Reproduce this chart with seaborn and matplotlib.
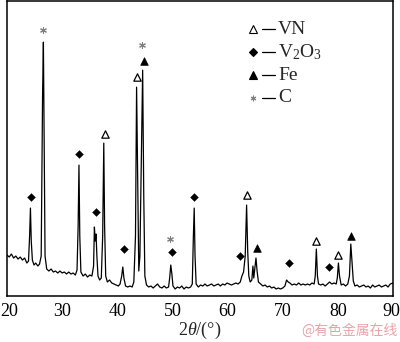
import matplotlib
matplotlib.use("Agg")
import matplotlib.pyplot as plt
import matplotlib.transforms as mtransforms
import seaborn as sns
import pandas as pd

# ---- XRD profile (2theta, intensity in arbitrary units) ----
two_theta = [
    20.0, 20.4, 20.8, 21.2, 21.6, 22.0, 22.4, 22.8, 23.2, 23.6, 23.9, 24.1, 24.25, 24.4, 24.6, 24.9,
    25.2, 25.6, 25.9, 26.2, 26.45, 26.6, 26.75, 26.9, 27.2, 27.6, 28.0, 28.4, 28.8, 29.2, 29.6, 30.0,
    30.4, 30.8, 31.2, 31.6, 32.0, 32.4, 32.7, 32.9, 33.05, 33.2, 33.4, 33.8, 34.2, 34.6, 35.0, 35.4,
    35.7, 35.85, 36.0, 36.15, 36.3, 36.5, 36.8, 37.1, 37.35, 37.55, 37.7, 37.9, 38.2, 38.6, 39.0, 39.4,
    39.8, 40.2, 40.5, 40.8, 41.0, 41.2, 41.5, 41.9, 42.3, 42.7, 43.0, 43.3, 43.5, 43.7, 43.9, 44.1,
    44.4, 44.6, 44.8, 45.0, 45.3, 45.7, 46.1, 46.5, 46.9, 47.3, 47.7, 48.1, 48.5, 48.9, 49.3, 49.5,
    49.7, 49.9, 50.1, 50.5, 50.9, 51.3, 51.7, 52.1, 52.5, 52.9, 53.3, 53.6, 53.8, 53.95, 54.1, 54.3,
    54.7, 55.1, 55.5, 55.9, 56.3, 56.7, 57.1, 57.5, 57.9, 58.3, 58.7, 59.1, 59.5, 59.9, 60.3, 60.7,
    61.1, 61.5, 61.9, 62.3, 62.6, 62.9, 63.2, 63.45, 63.65, 63.85, 64.1, 64.4, 64.6, 64.75, 65.0, 65.15,
    65.35, 65.6, 66.0, 66.4, 66.8, 67.2, 67.6, 68.0, 68.4, 68.8, 69.2, 69.6, 70.0, 70.4, 70.7, 71.0,
    71.3, 71.7, 72.1, 72.5, 72.9, 73.3, 73.7, 74.1, 74.5, 74.9, 75.3, 75.7, 75.9, 76.1, 76.3, 76.5,
    76.9, 77.3, 77.7, 78.1, 78.5, 78.9, 79.3, 79.7, 79.9, 80.1, 80.3, 80.6, 81.0, 81.4, 81.8, 82.1,
    82.35, 82.55, 82.8, 83.1, 83.5, 83.9, 84.3, 84.7, 85.1, 85.5, 85.9, 86.3, 86.7, 87.1, 87.5, 87.9,
    88.3, 88.7, 89.1, 89.5, 90.0,
]
intensity = [
    41, 39, 42, 38, 40, 37, 39, 36, 38, 33, 35, 60, 88, 55, 36, 31,
    33, 30, 32, 40, 200, 254, 150, 40, 27, 25, 27, 24, 25, 23, 25, 23,
    24, 22, 24, 22, 23, 21, 26, 70, 131, 60, 24, 20, 22, 19, 21, 20,
    30, 69, 55, 62, 40, 20, 16, 18, 60, 153, 70, 20, 14, 16, 13, 12,
    11, 10, 12, 20, 29, 18, 10, 9, 10, 9, 14, 60, 209, 120, 25, 40,
    150, 226, 100, 20, 11, 9, 10, 8, 10, 12, 9, 8, 10, 8, 9, 18,
    31, 22, 10, 7, 9, 8, 10, 7, 9, 8, 9, 12, 60, 88, 40, 12,
    9, 11, 10, 12, 10, 11, 12, 10, 11, 12, 10, 12, 11, 13, 12, 11,
    12, 13, 12, 14, 20, 24, 40, 91, 45, 20, 14, 16, 30, 18, 30, 38,
    25, 14, 12, 10, 11, 9, 10, 8, 9, 7, 8, 7, 8, 10, 16, 14,
    13, 11, 12, 11, 13, 11, 12, 11, 12, 11, 13, 12, 20, 47, 20, 12,
    11, 12, 10, 12, 14, 12, 13, 12, 18, 33, 20, 11, 12, 10, 12, 20,
    52, 35, 15, 10, 11, 9, 10, 11, 9, 10, 8, 11, 9, 10, 11, 9,
    10, 11, 9, 12, 13,
]

# ---- phase markers (2theta, height) ----
vn_x = [37.75, 43.5, 63.5, 76.1, 80.1]
vn_y = [162, 219, 101, 55, 41]
v2o3_x = [24.3, 33.0, 36.2, 41.2, 49.9, 53.9, 62.3, 71.1, 78.4]
v2o3_y = [99, 142, 84, 47, 44, 99, 40, 33, 29]
fe_x = [44.76, 65.35, 82.3]
fe_y = [235, 48, 60]
c_x = [26.58, 44.5, 49.5]
c_y = [266, 251, 57]

legend_labels = ["VN", "V$_2$O$_3$", "Fe", "C"]
x_ticks = [20, 30, 40, 50, 60, 70, 80, 90]

sns.set_style("white")
plt.rcParams["font.family"] = ["Liberation Serif", "DejaVu Serif"]
plt.rcParams["mathtext.fontset"] = "custom"
plt.rcParams["mathtext.rm"] = "Liberation Serif"
plt.rcParams["mathtext.it"] = "Liberation Serif:italic"

fig = plt.figure(figsize=(4.0, 3.42), dpi=100)
ax = fig.add_axes([0.0175, 0.1345, 0.965, 0.862])

df = pd.DataFrame({"two_theta": two_theta, "intensity": intensity})
sns.lineplot(data=df, x="two_theta", y="intensity", ax=ax, color="black",
             linewidth=0.9, estimator=None, sort=False)

sns.scatterplot(x=vn_x, y=vn_y, ax=ax, marker="^", s=28, facecolor="white",
                edgecolor="black", linewidth=0.9, zorder=5)
sns.scatterplot(x=v2o3_x, y=v2o3_y, ax=ax, marker="D", s=16, color="black",
                edgecolor="black", linewidth=0.3, zorder=5)
sns.scatterplot(x=fe_x, y=fe_y, ax=ax, marker="^", s=30, color="black",
                edgecolor="black", linewidth=0.5, zorder=5)
sns.scatterplot(x=c_x, y=c_y, ax=ax, marker=(6, 2, 0), s=18, color="#808080",
                edgecolor="#808080", linewidth=0.8, zorder=5)

ax.set_xlim(20, 90)
ax.set_ylim(0, 295)
ax.set_xticks(x_ticks)
ax.set_xticklabels([str(t) for t in x_ticks], fontsize=13)
ax.set_yticks([])
ax.tick_params(axis="x", direction="in", length=4, width=0.8, pad=5, colors="black")
ax.set_xlabel(r"$\mathit{2\theta}$/(°)", fontsize=13, labelpad=0)
ax.set_ylabel("")
for side in ["left", "right", "top", "bottom"]:
    ax.spines[side].set_visible(True)
    ax.spines[side].set_color("black")
    ax.spines[side].set_linewidth(1.1)

# nudge the end tick labels so they stay inside the canvas
labels = ax.get_xticklabels()
labels[0].set_transform(labels[0].get_transform() +
                        mtransforms.ScaledTranslation(1.8 / 100, 0, fig.dpi_scale_trans))
labels[-1].set_transform(labels[-1].get_transform() +
                         mtransforms.ScaledTranslation(-1.8 / 100, 0, fig.dpi_scale_trans))

# ---- legend drawn as marker + dash + text ----
leg_markers = [("^", "white", "black", 28), ("D", "black", "black", 14),
               ("^", "black", "black", 28), ((6, 2, 0), "#808080", "#808080", 16)]
leg_rows_px = [29, 52, 75, 98]
for (mk, fc, ec, sz), lab, ypx in zip(leg_markers, legend_labels, leg_rows_px):
    yf = 1 - ypx / 342
    fig.lines.append(plt.Line2D([253 / 400], [yf], marker=mk, markersize=sz ** 0.5,
                                markerfacecolor=fc, markeredgecolor=ec,
                                markeredgewidth=0.8, linestyle="none",
                                transform=fig.transFigure))
    fig.lines.append(plt.Line2D([262 / 400, 275 / 400], [yf, yf], color="black",
                                linewidth=0.9, transform=fig.transFigure))
    fig.text(278 / 400, yf, lab, fontsize=14, va="center", ha="left")

fig.text(0.995, 0.012, "@有色金属在线", fontsize=10, color="#e9a3a8",
         ha="right", va="bottom", family=["Noto Sans CJK SC", "DejaVu Sans"])

fig.savefig("out.png", dpi=100)
